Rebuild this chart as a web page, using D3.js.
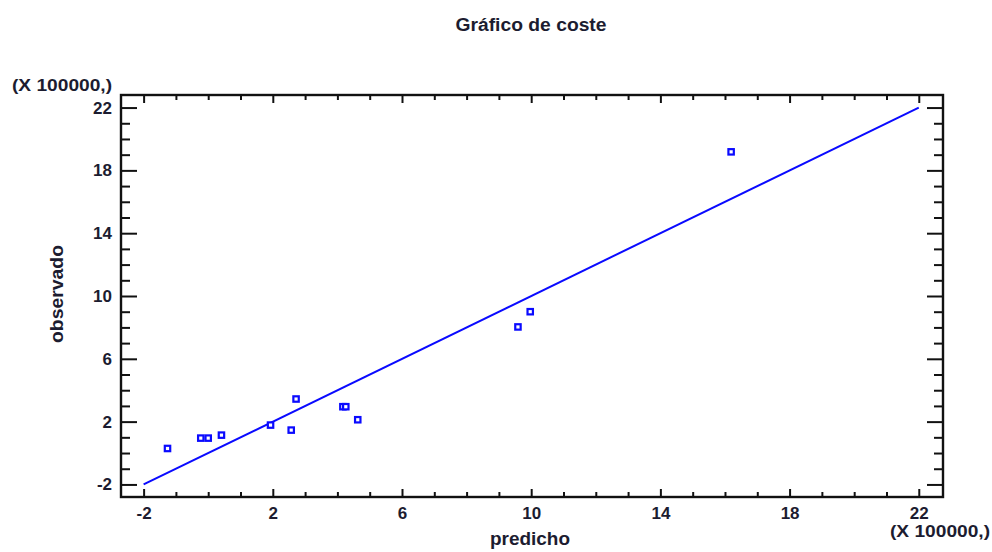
<!DOCTYPE html>
<html>
<head>
<meta charset="utf-8">
<script src="https://cdn.jsdelivr.net/npm/d3@7"></script>
<style>
  html, body { margin: 0; padding: 0; background: #fff; }
  svg { display: block; }
  text { font-family: "Liberation Sans", Arial, sans-serif; font-weight: bold; fill: #1c1c30; }
</style>
</head>
<body>
<svg id="chart" width="992" height="552"></svg>
<script>
// ---- data ----
const chartTitle = "Gráfico de coste";
const xLabel = "predicho";
const yLabel = "observado";
const multiplierLabel = "(X 100000,)";
const predicted = [-1.26, -0.23, 0.0, 0.41, 1.93, 2.57, 2.72, 4.17, 4.26, 4.63, 9.59, 9.97, 16.19];
const observed  = [0.29, 0.95, 0.95, 1.14, 1.78, 1.46, 3.44, 2.95, 2.95, 2.12, 8.03, 9.0, 19.18];
const fitLineX = [-2, 22];
const fitLineY = [-2, 22];
const majorTicks = [-2, 2, 6, 10, 14, 18, 22];
const minorTicks = [-1, 0, 1, 3, 4, 5, 7, 8, 9, 11, 12, 13, 15, 16, 17, 19, 20, 21];
const tickLabel = d => String(d);

// ---- layout ----
const svg = d3.select("#chart");
const L = 121, R = 943, T = 95, B = 497;
const x = d3.scaleLinear().domain([-2.7, 22.75]).range([L, R]);
const y = d3.scaleLinear().domain([-2.8, 22.8]).range([B, T]);
const blue = "#0a0aff";

function styleAxis(g) {
  g.select(".domain").remove();
  g.selectAll("line").attr("stroke", "#111").attr("stroke-width", 2);
  g.selectAll("text").attr("font-family", "Liberation Sans, Arial, sans-serif")
    .attr("font-size", 17).attr("font-weight", "bold").attr("fill", "#1c1c30");
}

// bottom axis
svg.append("g").attr("transform", `translate(0,${B})`)
  .call(d3.axisBottom(x).tickValues(majorTicks).tickSize(-8).tickPadding(10).tickFormat(tickLabel))
  .call(styleAxis);
svg.append("g").attr("transform", `translate(0,${B})`)
  .call(d3.axisBottom(x).tickValues(minorTicks).tickSize(-5).tickFormat(""))
  .call(styleAxis);
// top axis
svg.append("g").attr("transform", `translate(0,${T})`)
  .call(d3.axisTop(x).tickValues(majorTicks).tickSize(-8).tickFormat(""))
  .call(styleAxis);
svg.append("g").attr("transform", `translate(0,${T})`)
  .call(d3.axisTop(x).tickValues(minorTicks).tickSize(-5).tickFormat(""))
  .call(styleAxis);
// left axis
svg.append("g").attr("transform", `translate(${L},0)`)
  .call(d3.axisLeft(y).tickValues(majorTicks).tickSize(-16).tickPadding(9).tickFormat(tickLabel))
  .call(styleAxis);
svg.append("g").attr("transform", `translate(${L},0)`)
  .call(d3.axisLeft(y).tickValues(minorTicks).tickSize(-9).tickFormat(""))
  .call(styleAxis);
// right axis
svg.append("g").attr("transform", `translate(${R},0)`)
  .call(d3.axisRight(y).tickValues(majorTicks).tickSize(-16).tickFormat(""))
  .call(styleAxis);
svg.append("g").attr("transform", `translate(${R},0)`)
  .call(d3.axisRight(y).tickValues(minorTicks).tickSize(-9).tickFormat(""))
  .call(styleAxis);

// frame
svg.append("rect").attr("x", L).attr("y", T).attr("width", R - L).attr("height", B - T)
  .attr("fill", "none").attr("stroke", "#111").attr("stroke-width", 2.4);

// fit line
svg.append("path")
  .datum(fitLineX.map((v, i) => [v, fitLineY[i]]))
  .attr("d", d3.line().x(d => x(d[0])).y(d => y(d[1])))
  .attr("fill", "none").attr("stroke", blue).attr("stroke-width", 2);

// points
const pts = predicted.map((v, i) => ({ px: v, oy: observed[i] }));
const s = 5.4;
svg.append("g").selectAll("rect").data(pts).join("rect")
  .attr("x", d => x(d.px) - s / 2).attr("y", d => y(d.oy) - s / 2)
  .attr("width", s).attr("height", s)
  .attr("fill", "#fff").attr("stroke", blue).attr("stroke-width", 2.2);

// texts
svg.append("text").attr("x", 531).attr("y", 31).attr("text-anchor", "middle")
  .attr("font-size", 18).attr("textLength", 151).attr("lengthAdjust", "spacingAndGlyphs")
  .text(chartTitle);
svg.append("text").attr("x", 12).attr("y", 91).attr("text-anchor", "start")
  .attr("font-size", 16).attr("textLength", 100).attr("lengthAdjust", "spacingAndGlyphs")
  .text(multiplierLabel);
svg.append("text").attr("x", 890).attr("y", 537).attr("text-anchor", "start")
  .attr("font-size", 16).attr("textLength", 100).attr("lengthAdjust", "spacingAndGlyphs")
  .text(multiplierLabel);
svg.append("text").attr("x", 530).attr("y", 545).attr("text-anchor", "middle")
  .attr("font-size", 18).attr("textLength", 80).attr("lengthAdjust", "spacingAndGlyphs")
  .text(xLabel);
svg.append("text").attr("transform", "translate(63,294) rotate(-90)").attr("text-anchor", "middle")
  .attr("font-size", 18).attr("textLength", 98).attr("lengthAdjust", "spacingAndGlyphs")
  .text(yLabel);
</script>
</body>
</html>
